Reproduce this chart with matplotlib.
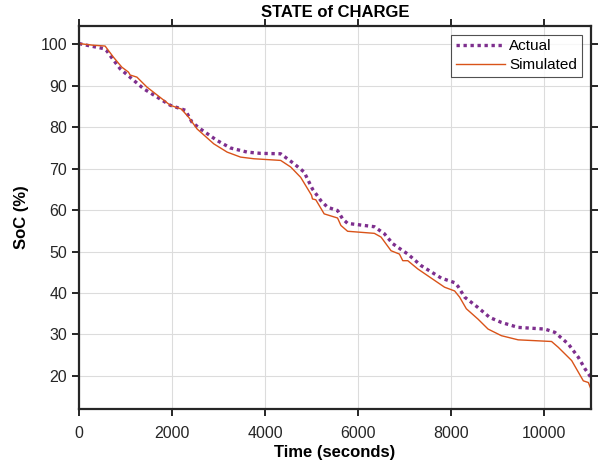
import numpy as np
import matplotlib.pyplot as plt

# Measured state of charge (%) over time (s)
t_actual = [0, 250, 524, 600, 669, 885, 1137, 1388, 1676, 1963, 2287, 2431, 2610,
            2970, 3258, 3618, 3905, 4337, 4624, 4840, 5020, 5200, 5344, 5560, 5668,
            5776, 6351, 6567, 6747, 6926, 7070, 7358, 7789, 8077, 8150, 8293, 8580,
            8832, 9083, 9443, 10018, 10234, 10522, 10737, 10881, 11010]
soc_actual = [100.2, 99.6, 99.0, 98.4, 97.3, 94.1, 91.7, 89.3, 87.3, 85.3, 84.1, 81.2,
              79.6, 76.8, 75.0, 74.0, 73.7, 73.6, 71.2, 69.2, 65.1, 62.3, 60.7, 59.9,
              57.9, 56.8, 56.0, 54.3, 51.9, 50.5, 49.4, 46.6, 43.6, 42.5, 41.6, 39.0,
              36.5, 34.1, 32.9, 31.7, 31.3, 30.5, 27.7, 24.5, 21.7, 19.6]

# Model output
t_sim = [0, 300, 561, 741, 921, 1064, 1100, 1245, 1460, 1963, 2200, 2359, 2538, 2898,
         3186, 3474, 3761, 4336, 4553, 4768, 5000, 5020, 5092, 5272, 5560, 5632, 5776,
         6351, 6495, 6710, 6890, 6962, 7070, 7286, 7861, 8077, 8185, 8329, 8580, 8796,
         9083, 9443, 10162, 10306, 10594, 10845, 10953, 11010]
soc_sim = [100.2, 99.8, 99.6, 96.9, 94.5, 93.3, 92.6, 92.1, 89.7, 85.3, 84.4, 82.4,
           79.6, 76.0, 74.0, 72.8, 72.4, 72.0, 70.4, 67.9, 63.6, 62.7, 62.5, 59.1,
           58.1, 56.3, 54.9, 54.4, 53.5, 50.2, 49.4, 47.8, 47.8, 45.8, 41.4, 40.5,
           39.0, 36.2, 33.7, 31.3, 29.7, 28.7, 28.3, 26.9, 23.7, 18.8, 18.4, 16.8]

plt.rcParams['font.family'] = ['Liberation Sans', 'DejaVu Sans']

fig = plt.figure(figsize=(6, 4.68), dpi=100)
ax = fig.add_axes([0.1317, 0.126, 0.8533, 0.819])

ax.plot(t_actual, soc_actual, color='#7E2F8E', lw=2.4, dashes=(1, 1.1),
        label='Actual')
ax.plot(t_sim, soc_sim, color='#D95319', lw=1.0, label='Simulated')

ax.set_xlim(0, 11010)
ax.set_ylim(12, 104.5)
ax.set_xticks([0, 2000, 4000, 6000, 8000, 10000])
ax.set_yticks([20, 30, 40, 50, 60, 70, 80, 90, 100])

ax.grid(True, color='#dcdcdc', lw=0.8)
ax.set_axisbelow(True)
for s in ax.spines.values():
    s.set_color('#262626')
    s.set_linewidth(1.6)
ax.tick_params(axis='both', which='both', direction='out', length=5, width=1.4,
               colors='#262626', labelsize=11.5, top=True, right=True,
               labeltop=False, labelright=False)
ax.tick_params(axis='x', pad=7)

ax.set_xlabel('Time (seconds)', fontsize=12, fontweight='bold', labelpad=3)
ax.set_ylabel('SoC (%)', fontsize=12, fontweight='bold', labelpad=8)
ax.set_title('STATE of CHARGE', fontsize=12, fontweight='bold', pad=6)

leg = ax.legend(loc='upper right', fontsize=11, frameon=True, fancybox=False,
                edgecolor='#262626', handlelength=3.2, borderaxespad=0.6,
                borderpad=0.3, labelspacing=0.3, handletextpad=0.3)
leg.get_frame().set_linewidth(0.8)

fig.savefig('out.png', dpi=100)
